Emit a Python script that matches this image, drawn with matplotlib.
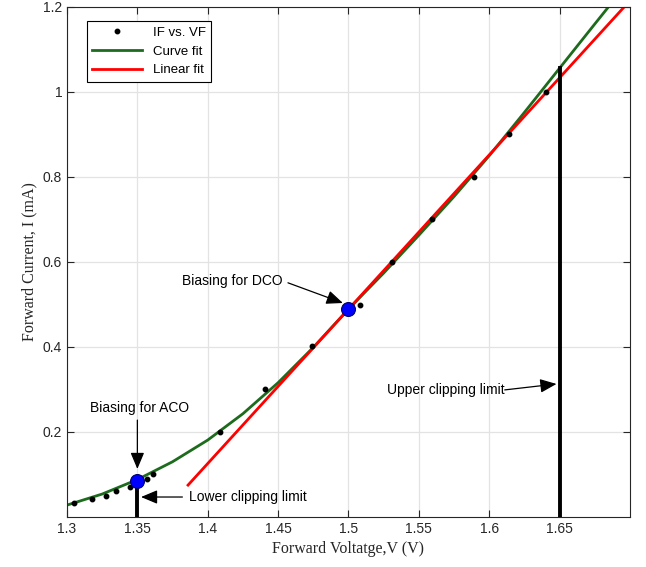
import matplotlib.pyplot as plt
import numpy as np

# measured forward voltage / current
vf = [1.305, 1.318, 1.328, 1.335, 1.345, 1.357, 1.361, 1.409, 1.441, 1.474,
      1.508, 1.531, 1.559, 1.589, 1.614, 1.640]
i_f = [0.032, 0.042, 0.050, 0.060, 0.070, 0.090, 0.100, 0.200, 0.301, 0.402,
       0.499, 0.600, 0.700, 0.800, 0.900, 1.000]

# curve fit
fit_v = [1.300, 1.325, 1.350, 1.375, 1.400, 1.425, 1.450, 1.475, 1.500, 1.525,
         1.550, 1.575, 1.600, 1.625, 1.650, 1.675, 1.690]
fit_i = [0.028, 0.054, 0.088, 0.130, 0.181, 0.243, 0.316, 0.399, 0.489, 0.574,
         0.663, 0.754, 0.850, 0.952, 1.056, 1.160, 1.222]

# linear fit end points
lin_v = [1.386, 1.700]
lin_i = [0.075, 1.215]

# operating points and clipping limits
bias_v = [1.35, 1.50]
bias_i = [0.085, 0.49]
clip_v = [1.35, 1.65]
clip_i = [0.085, 1.056]

xticks = [1.3, 1.35, 1.4, 1.45, 1.5, 1.55, 1.6, 1.65]
xtick_labels = ["1.3", "1.35", "1.4", "1.45", "1.5", "1.55", "1.6", "1.65"]
yticks = [0.2, 0.4, 0.6, 0.8, 1.0, 1.2]
ytick_labels = ["0.2", "0.4", "0.6", "0.8", "1", "1.2"]

plt.rcParams['font.family'] = ['Liberation Sans', 'DejaVu Sans']

fig = plt.figure(figsize=(6.46, 5.67), dpi=100)
ax = fig.add_axes([0.1037, 0.0882, 0.8715, 0.8995])

ax.plot(vf, i_f, 'o', color='black', markersize=3.2, label="IF vs. VF", zorder=3)
ax.plot(fit_v, fit_i, '-', color='#1d6b1d', lw=2, label="Curve fit", zorder=2)
ax.plot(lin_v, lin_i, '-', color='#ff0000', lw=2, label="Linear fit", zorder=2)

# clipping limits
for v, top in zip(clip_v, clip_i):
    ax.plot([v, v], [0, top], '-', color='black', lw=2.8, zorder=4)

ax.plot(bias_v, bias_i, 'o', color='#0000ff', markersize=10, mec='#00006e', mew=0.8, zorder=5)

arrow = dict(arrowstyle='-|>,head_length=1.0,head_width=0.42', color='black', lw=0.9,
             shrinkA=0, shrinkB=0)

ax.text(1.4172, 0.555, "Biasing for DCO", ha='center', va='center', fontsize=10)
ax.annotate('', xy=(1.496, 0.5035), xytext=(1.457, 0.551), arrowprops=arrow)

ax.text(1.3518, 0.256, "Biasing for ACO", ha='center', va='center', fontsize=10)
ax.annotate('', xy=(1.35, 0.113), xytext=(1.35, 0.228), arrowprops=arrow)

ax.text(1.387, 0.047, "Lower clipping limit", ha='left', va='center', fontsize=10)
ax.annotate('', xy=(1.3526, 0.047), xytext=(1.382, 0.047), arrowprops=arrow)

ax.text(1.611, 0.299, "Upper clipping limit", ha='right', va='center', fontsize=10)
ax.annotate('', xy=(1.6478, 0.313), xytext=(1.611, 0.299), arrowprops=arrow)

ax.set_xlim(1.3, 1.7)
ax.set_ylim(0, 1.2)
ax.set_xticks(xticks)
ax.set_xticklabels(xtick_labels)
ax.set_yticks(yticks)
ax.set_yticklabels(ytick_labels)
ax.tick_params(direction='in', top=True, right=True, length=5, labelsize=10,
               color='#262626', labelcolor='#262626')
ax.grid(True, color='#e3e3e3', lw=0.9)
ax.set_axisbelow(True)
for s in ax.spines.values():
    s.set_color('#262626')
    s.set_linewidth(0.8)

ax.set_xlabel("Forward Voltatge,V (V)", family='Liberation Serif', fontsize=11.5,
              color='#262626')
ax.set_ylabel("Forward Current, I (mA)", family='Liberation Serif', fontsize=11.5,
              color='#262626')

leg = ax.legend(loc='upper left', bbox_to_anchor=(0.035, 0.972), borderaxespad=0,
                fancybox=False, edgecolor='black', fontsize=9.5, handlelength=3.8,
                framealpha=1)
leg.get_frame().set_linewidth(0.8)

fig.savefig("out.png", dpi=100)
